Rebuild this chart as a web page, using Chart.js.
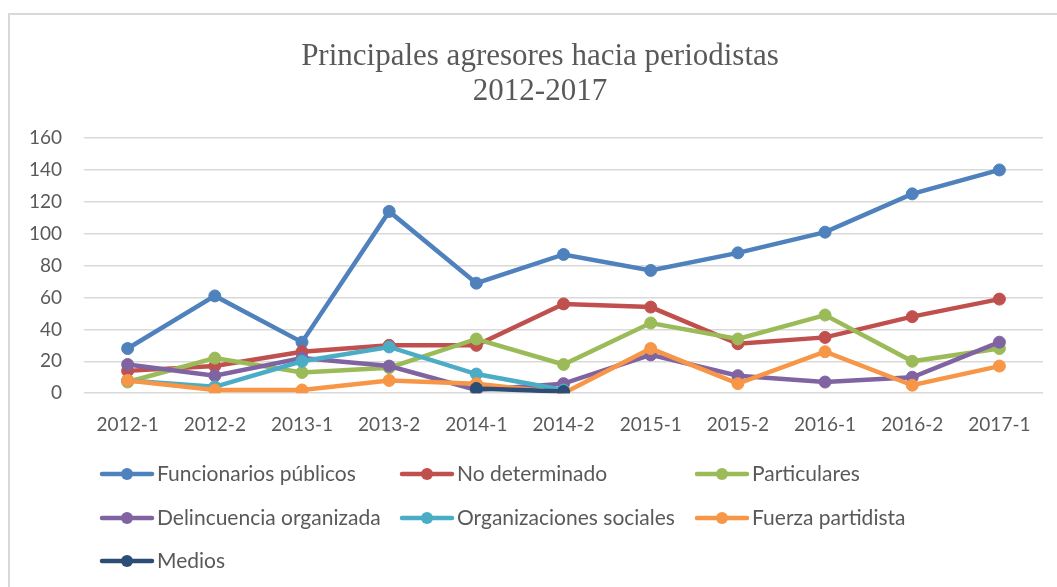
<!DOCTYPE html>
<html>
<head>
<meta charset="utf-8">
<script src="https://cdn.jsdelivr.net/npm/chart.js@4"></script>
<style>
  html, body { margin: 0; padding: 0; background: #fff; overflow: hidden; }
  #frame { position: absolute; left: 8px; top: 13px; width: 1100px; height: 600px;
           border-top: 2px solid #d9d9d9; border-left: 2px solid #d9d9d9; }
  #wrap { position: absolute; left: 0; top: 0; width: 1057px; height: 587px; }
</style>
</head>
<body>
<div id="frame"></div>
<div id="wrap"><canvas id="chart"></canvas></div>
<script>
const periods = ["2012-1", "2012-2", "2013-1", "2013-2", "2014-1", "2014-2", "2015-1", "2015-2", "2016-1", "2016-2", "2017-1"];

const funcionarios = [28, 61, 32, 114, 69, 87, 77, 88, 101, 125, 140];
const noDeterminado = [14, 17, 26, 30, 30, 56, 54, 31, 35, 48, 59];
const particulares = [7, 22, 13, 16, 34, 18, 44, 34, 49, 20, 28];
const delincuencia = [18, 11, 22, 17, 2, 6, 24, 11, 7, 10, 32];
const organizaciones = [8, 4, 20, 29, 12, 2, null, null, null, null, null];
const fuerza = [8, 2, 2, 8, 6, 0, 28, 6, 26, 5, 17];
const medios = [null, null, null, null, 3, 1, null, null, null, null, null];

const seriesNames = ["Funcionarios públicos", "No determinado", "Particulares", "Delincuencia organizada", "Organizaciones sociales", "Fuerza partidista", "Medios"];
const seriesData = [funcionarios, noDeterminado, particulares, delincuencia, organizaciones, fuerza, medios];
const seriesColors = ["#4f81bd", "#c0504d", "#9bbb59", "#8064a2", "#4bacc6", "#f79646", "#2c4d75"];

const textColor = "#595959";
const sansFont = "Lato, 'Liberation Sans', sans-serif";

const datasets = seriesNames.map((name, i) => ({
  label: name,
  data: seriesData[i],
  borderColor: seriesColors[i],
  backgroundColor: seriesColors[i],
  pointBackgroundColor: seriesColors[i],
  pointBorderColor: seriesColors[i],
  borderWidth: 4.5,
  pointRadius: 6,
  pointBorderWidth: 1,
  tension: 0,
  spanGaps: false,
  order: seriesNames.length - i
}));

// title in the original sits a bit right of the canvas centre
const titleShift = {
  id: "titleShift",
  afterLayout(chart) {
    if (chart.titleBlock) {
      chart.titleBlock.left += 15;
      chart.titleBlock.right += 15;
    }
  }
};

// legend laid out in three columns like the original
const gridLegend = {
  id: "gridLegend",
  afterDraw(chart) {
    const ctx = chart.ctx;
    const cols = [100, 400, 695];
    const rows = [474, 518, 561];
    ctx.save();
    ctx.font = "21px " + sansFont;
    ctx.textBaseline = "middle";
    ctx.textAlign = "left";
    chart.data.datasets.forEach((ds, i) => {
      const x = cols[i % 3];
      const y = rows[Math.floor(i / 3)];
      ctx.strokeStyle = ds.borderColor;
      ctx.lineWidth = 4.5;
      ctx.lineCap = "round";
      ctx.beginPath();
      ctx.moveTo(x + 2, y);
      ctx.lineTo(x + 52, y);
      ctx.stroke();
      ctx.fillStyle = ds.borderColor;
      ctx.beginPath();
      ctx.arc(x + 27, y, 6, 0, Math.PI * 2);
      ctx.fill();
      ctx.fillStyle = textColor;
      ctx.fillText(ds.label, x + 57, y);
    });
    ctx.restore();
  }
};

new Chart(document.getElementById("chart"), {
  type: "line",
  data: { labels: periods, datasets: datasets },
  plugins: [titleShift, gridLegend],
  options: {
    responsive: true,
    maintainAspectRatio: false,
    animation: false,
    layout: { padding: { left: 7, right: 14, top: 0, bottom: 139 } },
    plugins: {
      legend: { display: false },
      tooltip: { enabled: false },
      title: {
        display: true,
        text: ["Principales agresores hacia periodistas", "2012-2017"],
        color: textColor,
        font: { family: "'Liberation Serif', 'Times New Roman', serif", size: 31, weight: "normal", lineHeight: 1.13 },
        padding: { top: 39, bottom: 29 }
      }
    },
    scales: {
      x: {
        offset: true,
        grid: { display: false },
        border: { display: false },
        ticks: { color: textColor, font: { family: sansFont, size: 19 }, padding: 12, maxRotation: 0 }
      },
      y: {
        min: 0,
        max: 160,
        grid: { color: "#d9d9d9", lineWidth: 1.5, drawTicks: false },
        border: { display: false },
        ticks: { stepSize: 20, color: textColor, font: { family: sansFont, size: 19 }, padding: 22 }
      }
    }
  }
});
</script>
</body>
</html>
